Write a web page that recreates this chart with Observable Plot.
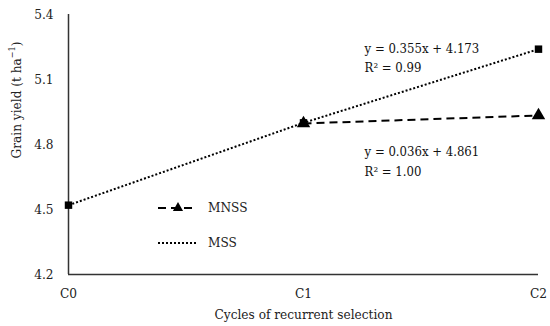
<!DOCTYPE html>
<html><head><meta charset="utf-8">
<script src="https://cdn.jsdelivr.net/npm/d3@7"></script>
<script src="https://cdn.jsdelivr.net/npm/@observablehq/plot@0.6"></script>
<style>body{margin:0;background:#fff}</style>
</head><body><div id="chart"></div>
<script>
const cycles = ["C0", "C1", "C2"];
const mssYield = [4.52, 4.90, 5.24];
const mnssCycles = ["C1", "C2"];
const mnssYield = [4.897, 4.934];
const yTicks = [4.2, 4.5, 4.8, 5.1, 5.4];
const annotations = [
  {pos: 1.26, y: 5.24, text: "y = 0.355x + 4.173"},
  {pos: 1.26, y: 5.152, text: "R² = 0.99"},
  {pos: 1.26, y: 4.765, text: "y = 0.036x + 4.861"},
  {pos: 1.26, y: 4.675, text: "R² = 1.00"}
];
const legendItems = [
  {name: "MNSS", dash: "8 5", symbol: "triangle"},
  {name: "MSS", dash: "2 2", symbol: null}
];

const mss = cycles.map((c, i) => ({pos: i, y: mssYield[i]}));
const mnss = mnssCycles.map((c, i) => ({pos: cycles.indexOf(c), y: mnssYield[i]}));

const font = "'DejaVu Serif Condensed', 'DejaVu Serif', serif";
const fs = 13.5;
const plot = Plot.plot({
  width: 550, height: 326,
  marginLeft: 68, marginRight: 12, marginTop: 14, marginBottom: 52,
  style: {fontFamily: font, fontSize: fs + "px", color: "#222", background: "#fff"},
  x: {domain: [0, 2], axis: null},
  y: {domain: [4.2, 5.4], axis: null},
  marks: [
    Plot.axisX({ticks: [0, 1, 2], tickFormat: i => cycles[i], tickSize: 0, tickPadding: 14, fontSize: fs,
      label: "Cycles of recurrent selection", labelAnchor: "center", labelOffset: 44, labelArrow: "none"}),
    Plot.axisY({ticks: yTicks, tickFormat: d3.format(".1f"), tickSize: 0, tickPadding: 15, fontSize: fs, label: null}),
    Plot.ruleX([0], {stroke: "#333", strokeWidth: 1.5}),
    Plot.ruleY([4.2], {stroke: "#333", strokeWidth: 1.5}),
    Plot.line(mss, {x: "pos", y: "y", stroke: "#000", strokeWidth: 2, strokeDasharray: "2 2", strokeLinecap: "butt"}),
    Plot.line(mnss, {x: "pos", y: "y", stroke: "#000", strokeWidth: 2, strokeDasharray: "8 5", strokeLinecap: "butt"}),
    Plot.dot(mnss, {x: "pos", y: "y", symbol: "triangle", r: 5, fill: "#000"}),
    Plot.dot(mss, {x: "pos", y: "y", symbol: "square", r: 4.2, fill: "#000"}),
    Plot.text(annotations, {x: "pos", y: "y", text: "text", textAnchor: "start", fontSize: 13, fill: "#111"})
  ]
});

const svg = d3.select(plot);
// y-axis title
svg.append("text")
  .attr("transform", "translate(17,100) rotate(-90)")
  .attr("text-anchor", "middle").attr("dominant-baseline", "middle")
  .attr("font-family", font).attr("font-size", fs).attr("fill", "#222")
  .html("Grain yield (t ha<tspan dy='-5' font-size='9'>−1</tspan><tspan dy='5'>)</tspan>");
// legend
const lg = svg.append("g");
legendItems.forEach((d, i) => {
  const y = 208 + i * 35;
  lg.append("line").attr("x1", 158).attr("x2", 197).attr("y1", y).attr("y2", y)
    .attr("stroke", "#000").attr("stroke-width", 2).attr("stroke-dasharray", d.dash);
  if (d.symbol === "triangle") {
    lg.append("path").attr("transform", `translate(178,${y})`)
      .attr("d", d3.symbol(d3.symbolTriangle, 45)()).attr("fill", "#000");
  }
  lg.append("text").attr("x", 208).attr("y", y).attr("dominant-baseline", "middle")
    .attr("text-anchor", "start")
    .attr("font-family", font).attr("font-size", fs).attr("fill", "#222").text(d.name);
});
document.getElementById("chart").append(plot);
</script></body></html>
